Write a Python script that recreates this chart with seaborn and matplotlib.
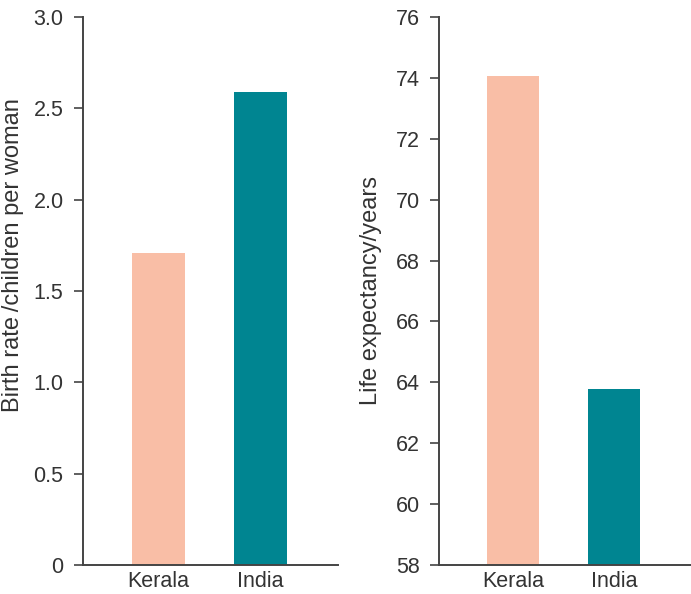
import matplotlib
matplotlib.use("Agg")
import matplotlib.pyplot as plt
import seaborn as sns
import pandas as pd

# Data
regions = ["Kerala", "India"]
birth_rate = [1.71, 2.59]
life_expectancy = [74.05, 63.78]
birth_ticks = [0, 0.5, 1.0, 1.5, 2.0, 2.5, 3.0]
birth_tick_labels = ["0", "0.5", "1.0", "1.5", "2.0", "2.5", "3.0"]
life_ticks = [58, 60, 62, 64, 66, 68, 70, 72, 74, 76]

colors = {"Kerala": "#F9BEA6", "India": "#008591"}

sns.set_style("white")
plt.rcParams["font.family"] = ["Liberation Sans", "DejaVu Sans"]

fig = plt.figure(figsize=(6.91, 5.94), dpi=100)
ax1 = fig.add_axes([83 / 691, 1 - 565 / 594, 255 / 691, 548 / 594])
ax2 = fig.add_axes([439 / 691, 1 - 565 / 594, 252 / 691, 548 / 594])

df_birth = pd.DataFrame({"region": regions, "value": birth_rate})
df_life = pd.DataFrame({"region": regions, "value": life_expectancy})

text_color = "#333333"
spine_color = "#444444"

panels = [
    (ax1, df_birth, (0, 3.0), birth_ticks, birth_tick_labels,
     "Birth rate\u2009/children per woman", (-0.23, 0.565)),
    (ax2, df_life, (58, 76), life_ticks, [str(t) for t in life_ticks],
     "Life expectancy/years", (-0.228, 0.5)),
]

for ax, df, ylim, ticks, labels, ylabel, lpos in panels:
    sns.barplot(data=df, x="region", y="value", hue="region", palette=colors,
                width=0.52, ax=ax, legend=False, saturation=1,
                edgecolor="none", linewidth=0)
    ax.set_ylim(*ylim)
    ax.set_xlim(-0.735, 1.76)
    ax.set_yticks(ticks)
    ax.set_yticklabels(labels)
    ax.set_xlabel("")
    ax.set_ylabel(ylabel, fontsize=17, color=text_color)
    ax.yaxis.set_label_coords(*lpos)
    for s in ["top", "right"]:
        ax.spines[s].set_visible(False)
    for s in ["left", "bottom"]:
        ax.spines[s].set_color(spine_color)
        ax.spines[s].set_linewidth(1.4)
    ax.tick_params(axis="y", length=6.5, width=1.2, color=spine_color,
                   pad=7.5, labelsize=15.5, labelcolor=text_color, left=True)
    ax.tick_params(axis="x", length=0, pad=4, labelsize=15.5,
                   labelcolor=text_color)

fig.savefig("out.png", dpi=100, facecolor="white")
